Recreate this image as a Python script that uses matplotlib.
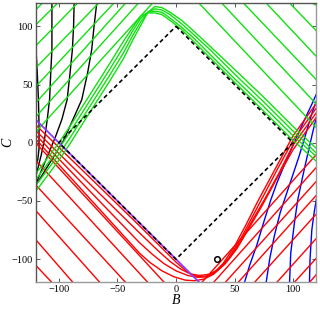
import matplotlib
matplotlib.use("Agg")
import matplotlib.pyplot as plt

plt.rcParams['font.family'] = ['Liberation Serif', 'DejaVu Serif']

LIM = 120

# red straight arms, lower left: start on left edge (C), end on bottom edge (B)
red_left_C = [0, -15, -36, -58, -83, -105]
red_left_B = [-10, -24, -43, -65, -88, -106]
# red straight arms, lower right: start on bottom edge (B), end on right edge (C)
red_right_B = [22, 32, 42, 53, 67, 86, 101, 114]
red_right_C = [-10, -21, -33, -45, -61, -82, -99, -113]

# green straight arms, upper left: left edge (C) -> top edge (B)
green_left_C = [9, 22, 34, 48, 64, 83, 101, 114]
green_left_B = [-20, -32, -43, -53, -66, -84, -101, -114]
# green straight arms, upper right: top edge (B) -> right edge (C)
green_right_B = [19.5, 39, 57.6, 77, 97, 116]
green_right_C = [13, 33, 54, 74, 96, 118]

# red curves with a minimum inside the frame
red_bunch_B = [
    [-120, -31, -10, 0, 8, 14, 20, 26, 32, 40, 50, 60, 70, 85, 100, 120],
    [-120, -31, -15, -5, 4, 12, 20, 28, 36, 45, 55, 65, 75, 87, 100, 120],
    [-120, -31, -20, -10, 0, 10, 18, 26, 35, 45, 55, 65, 76, 88, 100, 120],
    [-120, -31, -22, -12, -2, 8, 16, 24, 32, 42, 52, 62, 73, 86, 100, 120],
]
red_bunch_C = [
    [15.5, -71.5, -92.5, -102.5, -109.5, -113.5, -115.5, -115, -112, -104, -89, -70, -50, -22, 6, 34],
    [10.6, -77.6, -93, -102, -108.5, -112.5, -114, -113, -109, -99, -83, -64, -45, -22, 2, 30],
    [6.9, -86, -96, -104, -110, -114, -115.5, -114.5, -110, -100, -85, -67, -48, -26, -2, 26],
    [3.2, -95, -103, -110, -115, -118, -118.5, -117, -113, -104, -91, -74, -55, -31, -6, 22],
]

# green curves with a maximum inside the frame
green_bunch_B = [-120, -100, -90, -80, -68, -56, -45, -37, -30, -24, -18, -12, -5, 5, 15, 30, 50, 75, 100, 120]
green_bunch_C = [
    [-42, -15, 0, 16, 35, 54, 72, 88, 101, 112, 117, 116, 112, 105, 96, 82, 63, 39, 14, -5],
    [-37, -10, 5, 21, 40, 59, 77, 92, 104, 112, 115, 114, 110, 102, 93, 79, 59, 35, 10, -9],
    [-32, -5, 10, 26, 45, 64, 82, 96, 107, 112, 113, 112, 107, 99, 90, 75, 55, 31, 6, -12],
    [-27, 0, 15, 31, 50, 69, 87, 99, 109, 111.5, 111.5, 110, 105, 97, 87, 72, 52, 27, 2, -16],
]

# black curves, upper left
black_B = [
    [-67.7, -70, -72, -75.5, -80.5, -88, -96, -107, -120],
    [-87, -87.5, -88.5, -90.5, -93, -97.5, -103, -110, -120],
    [-106, -106, -106, -107, -108, -110, -112, -115, -120],
    [-120, -118.5, -117.5, -117, -117, -118, -120],
]
black_C = [
    [120, 100, 80, 60, 37, 20, 2, -16, -37],
    [120, 100, 80, 60, 37, 20, 5, -12, -36],
    [120, 100, 80, 60, 37, 20, 5, -10, -30],
    [88, 60, 37, 15, -5, -14, -22],
]

# blue curves, lower right
blue_B = [
    [58.5, 63, 69, 75, 81, 86, 93, 101, 109, 116, 120],
    [77, 80, 84, 89, 94, 99, 105, 111, 116, 120],
    [97, 98, 101, 104, 108, 112, 117, 120],
    [114, 114.5, 116, 118, 120],
]
blue_C = [
    [-120, -105, -88, -68, -49, -35, -18, 0, 18, 33, 42],
    [-120, -100, -80, -60, -45, -30, -12, 8, 25, 36],
    [-120, -95, -70, -49, -30, -12, 10, 22],
    [-120, -100, -75, -60, -48],
]

purple_B = [-120, 20]
purple_C = [20, -120]

diamond_B = [0, 100, 0, -100, 0]
diamond_C = [100, 0, -100, 0, 100]

point_B, point_C = 35, -100

RED, GREEN, BLUE, PURPLE = '#ff0000', '#10e010', '#0000ff', '#8a3cff'
LW = 1.0

fig = plt.figure(figsize=(3.2, 3.09), dpi=100)
ax = fig.add_axes([0.111, 0.0858, 0.878, 0.9045])

for b, c in zip(black_B, black_C):
    ax.plot(b, c, color='black', lw=LW)

for b, c in zip(blue_B, blue_C):
    ax.plot(b, c, color=BLUE, lw=LW)

for c, b in zip(red_left_C, red_left_B):
    ax.plot([-LIM, b], [c, -LIM], color=RED, lw=LW)
for b, c in zip(red_right_B, red_right_C):
    ax.plot([b, LIM], [-LIM, c], color=RED, lw=LW)
for b, c in zip(red_bunch_B, red_bunch_C):
    ax.plot(b, c, color=RED, lw=LW)

for c, b in zip(green_left_C, green_left_B):
    ax.plot([-LIM, b], [c, LIM], color=GREEN, lw=LW)
for b, c in zip(green_right_B, green_right_C):
    ax.plot([b, LIM], [LIM, c], color=GREEN, lw=LW)
for c in green_bunch_C:
    ax.plot(green_bunch_B, c, color=GREEN, lw=LW)

ax.plot(purple_B, purple_C, color=PURPLE, lw=1.3)
ax.plot(diamond_B, diamond_C, color='black', lw=1.2, dashes=(2.5, 1.8))
ax.plot(point_B, point_C, 'o', ms=4, mfc='white', mec='black', mew=1.1)

ax.set_xlim(-LIM, LIM)
ax.set_ylim(-LIM, LIM)
ax.set_xticks([-100, -50, 0, 50, 100])
ax.set_yticks([-100, -50, 0, 50, 100])
ax.tick_params(direction='in', length=3, width=0.7, top=True, right=True,
               labelsize=7.5, pad=2, color='#555555')
ax.set_xlabel('B', fontsize=10, fontstyle='italic', labelpad=0)
ax.set_ylabel('C', fontsize=10, fontstyle='italic')
ax.yaxis.set_label_coords(-0.075, 0.5)

for side in ['left', 'top']:
    ax.spines[side].set_color('#555555')
for side in ['right', 'bottom']:
    ax.spines[side].set_color('#999999')
for s in ax.spines.values():
    s.set_linewidth(1.0)

fig.savefig('out.png', dpi=100)
